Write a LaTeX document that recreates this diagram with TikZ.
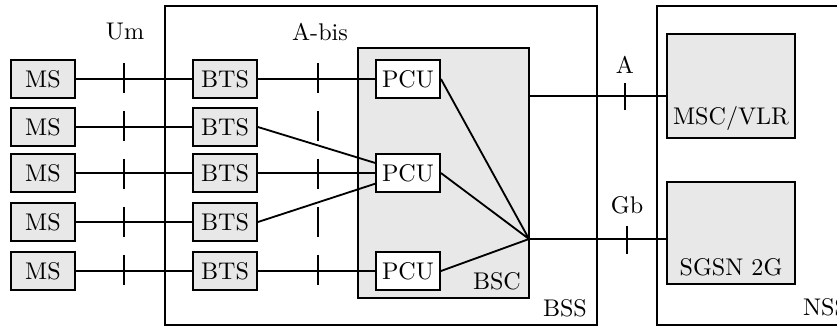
\documentclass[tikz,border=0pt]{standalone}
\usepackage{xcolor}
\usepackage{tikz}
\definecolor{boxgray}{HTML}{E8E8E8}

\tikzset{
  every node/.style={font=\fontsize{10.5}{12}\selectfont},
  unit/.style={draw,thick,fill=boxgray,minimum width=0.98cm,minimum height=0.58cm,inner sep=0pt},
  pcu/.style={draw,thick,fill=white,minimum width=0.98cm,minimum height=0.58cm,inner sep=0pt},
  server/.style={draw,thick,fill=boxgray,minimum width=1.97cm,inner sep=0pt},
  link/.style={thick},
}

\begin{document}
\begin{tikzpicture}[x=0.0153cm,y=-0.0153cm]
  \useasboundingbox (0,0) rectangle (837,326);
  % subsystems
  \draw[thick] (165,6) rectangle (597,325);
  \draw[thick] (657,6) rectangle (880,325);
  \fill[boxgray] (358,48) rectangle (529,298);
  \draw[thick] (358,48) rectangle (529,298);
  \node[anchor=south east] at (529,298) {BSC};
  \node[anchor=south east] at (595,325) {BSS};
  \node[anchor=west] at (795,307) {NSS};
  % interface labels
  \node at (125,32) {Um};
  \node at (320,32) {A-bis};
  \node at (625,65) {A};
  \node at (627,205) {Gb};
  % mobile stations and base stations
  \foreach \i/\y in {1/79,2/127,3/173,4/222,5/271}{
    \node[unit] (ms\i) at (43,\y) {MS};
    \node[unit] (bts\i) at (225,\y) {BTS};
    \draw[link] (ms\i) -- (bts\i);
  }
  % packet control units
  \node[pcu] (pcu1) at (408,79) {PCU};
  \node[pcu] (pcu2) at (408,173) {PCU};
  \node[pcu] (pcu3) at (408,271) {PCU};
  \coordinate (hub) at (529,239);
  \coordinate (bscA) at (529,96);
  % core network
  \node[server,minimum height=1.59cm] (msc) at (731,86) {};
  \node[above] at (msc.south) {MSC/VLR};
  \node[server,minimum height=1.55cm] (sgsn) at (731,233) {};
  \node[above] at (sgsn.south) {SGSN 2G};
  % connections
  \draw[link] (bts1) -- (pcu1);
  \draw[link] (bts2.east) -- (pcu2);
  \draw[link] (bts3) -- (pcu2);
  \draw[link] (bts4.east) -- (pcu2);
  \draw[link] (bts5) -- (pcu3);
  \foreach \i in {1,2,3}
    \draw[link] (pcu\i.east) -- (hub);
  \draw[link] (bscA) -- (bscA -| msc.west);
  \draw[link] (hub) -- (hub -| sgsn.west);
  % interface marks
  \draw[thick,dash pattern=on 13pt off 7.9pt] (124,63) -- (124,287);
  \draw[thick,dash pattern=on 13pt off 7.9pt] (318,63) -- (318,287);
  \draw[thick] (625,83) -- (625,110);
  \draw[thick] (627,226) -- (627,254);
\end{tikzpicture}
\end{document}
